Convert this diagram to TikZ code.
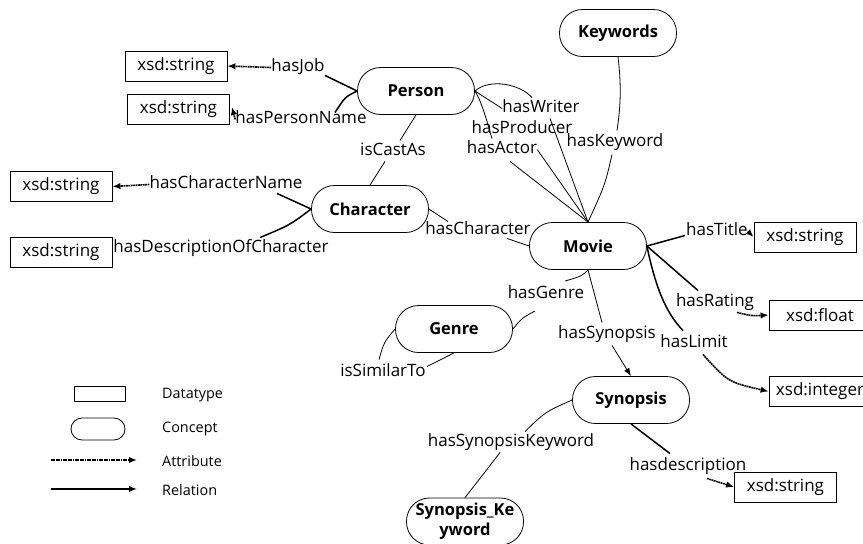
\documentclass[tikz,border=0pt]{standalone}
\usepackage{fontspec}
\setmainfont{Open Sans}
\usetikzlibrary{calc,arrows.meta}
\begin{document}
\begin{tikzpicture}[x=1pt,y=-1pt,
  every node/.style={font=\fontsize{17}{20}\selectfont},
  concept/.style={draw, line width=0.8pt, rounded corners=23pt, minimum width=117pt, minimum height=47pt, inner sep=0pt, font=\fontsize{16.5}{20}\selectfont\bfseries, align=center},
  dtype/.style={draw, line width=0.8pt, minimum width=102pt, minimum height=30pt, inner sep=0pt},
  lbl/.style={inner sep=0pt, text height=12pt, text depth=3.5pt},
  rel/.style={line width=0.8pt},
  relarr/.style={line width=0.8pt, -{Latex[length=8pt,width=6pt]}},
  relleg/.style={line width=1.8pt, -{Latex[length=8pt,width=6.5pt]}},
  attrline/.style={line width=1.5pt},
  attrarr/.style={line width=1.6pt, dash pattern=on 1.8pt off 0.6pt, -{Latex[length=8pt,width=6.5pt]}},
  legtxt/.style={anchor=west, inner sep=0pt, font=\fontsize{14.4}{17}\selectfont}]
\useasboundingbox (0,0) rectangle (863,544);
\clip (0,0) rectangle (863,544);

% concepts
\node[concept] (person) at (416,91) {Person};
\node[concept] (keywords) at (618,33) {Keywords};
\node[concept] (character) at (370,209) {Character};
\node[concept] (movie) at (588,246) {Movie};
\node[concept] (genre) at (454,329) {Genre};
\node[concept] (synopsis) at (631,400) {Synopsis};
\node[concept] (synkw) at (465,521.5) {Synopsis\_Ke\\yword};

% datatypes
\node[dtype] (s1) at (176,66) {xsd:string};
\node[dtype] (s2) at (178.5,109) {xsd:string};
\node[dtype] (s3) at (61,186.5) {xsd:string};
\node[dtype] (s4) at (61,252) {xsd:string};
\node[dtype] (s5) at (805,237) {xsd:string};
\node[dtype] (sf) at (820,315) {xsd:float};
\node[dtype] (si) at (820,391.5) {xsd:integer};
\node[dtype] (s6) at (785.5,487) {xsd:string};

% labels
\node[lbl] (lJob) at (298,67.5) {hasJob};
\node[lbl] (lPN) at (301,119.5) {hasPersonName};
\node[lbl] (lCast) at (393,151.5) {isCastAs};
\node[lbl] (lCN) at (226,184.5) {hasCharacterName};
\node[lbl] (lDC) at (221,248.5) {hasDescriptionOfCharacter};
\node[lbl] (lChar) at (478,230.5) {hasCharacter};
\node[lbl] (lWriter) at (541,108.5) {hasWriter};
\node[lbl] (lProd) at (522,129.5) {hasProducer};
\node[lbl] (lActor) at (502,149.5) {hasActor};
\node[lbl] (lKw) at (615,142.5) {hasKeyword};
\node[lbl] (lTitle) at (717,231.5) {hasTitle};
\node[lbl] (lRating) at (715,302.5) {hasRating};
\node[lbl] (lLimit) at (694,343.5) {hasLimit};
\node[lbl] (lGenre) at (546,294) {hasGenre};
\node[lbl] (lSyn) at (607,334.5) {hasSynopsis};
\node[lbl] (lSim) at (383,372.5) {isSimilarTo};
\node[lbl] (lSK) at (511,442.5) {hasSynopsisKeyword};
\node[lbl] (lDesc) at (688,466.5) {hasdescription};

% Person attributes
\draw[attrline] (person.west) -- ($(lJob.south)+(27,0)$);
\draw[attrarr] (lJob.west) -- (s1.east);
\draw[attrline] (person.west) .. controls (345,97) .. ($(lPN.north)+(34,1)$);
\draw[attrarr] (lPN.west) -- ($(s2.east)+(2,-2)$);

% Person - Character
\draw[rel] (person.south) -- ($(lCast.north)+(7,-3)$);
\draw[rel] ($(lCast.south)+(-8,2)$) -- (character.north);

% Character attributes
\draw[attrline] (character.west) -- ($(lCN.south)+(51,1)$);
\draw[attrarr] (lCN.west) -- (s3.east);
\draw[attrline] (character.west) .. controls (290,225) .. ($(lDC.north)+(39,-3)$);

% Character - Movie
\draw[rel] (character.east) -- ($(lChar.north)+(-30,-1)$);
\draw[rel] ($(lChar.south)+(29,0)$) -- (movie.west);

% Person - Movie
\draw[rel] (person.east) .. controls (490,78) and (520,84) .. ($(lWriter.north)+(-9,-3)$);
\draw[rel] ($(lWriter.south)+(9,2)$) -- (movie.north);
\draw[rel] (person.east) -- (lWriter.west);
\draw[rel] (lActor.east) -- (movie.north);
\draw[rel] (person.east) .. controls (482,102) and (488,125) .. ($(lActor.north)+(-10,-3)$);
\draw[rel] ($(lActor.south)+(8,4)$) -- (movie.north);

% Keywords - Movie
\draw[rel] (keywords.south) .. controls (622,90) and (620,110) .. ($(lKw.north)+(2,-4)$);
\draw[rel] ($(lKw.south)+(-3,4)$) .. controls (605,185) .. (movie.north);

% Movie attributes
\draw[attrline] (movie.east) -- ($(lTitle.west)+(-1,4)$);
\draw[attrarr] (lTitle.east) -- (s5.west);
\draw[attrline] (movie.east) -- ($(lRating.north)+(-17,-4)$);
\draw[attrarr] ($(lRating.south)+(22,2)$) .. controls (752,316) .. (sf.west);
\draw[attrline] (movie.east) .. controls (655,285) and (665,312) .. ($(lLimit.north)+(-11,-5)$);
\draw[attrarr] ($(lLimit.south)+(9,3)$) .. controls (728,382) .. (si.west);

% Movie - Genre, Synopsis
\draw[rel] (movie.south) .. controls (582,276) .. ($(lGenre.north)+(19,-5)$);
\draw[rel] ($(lGenre.south)+(-11,9)$) .. controls (522,318) .. (genre.east);
\draw[rel] (movie.south) -- ($(lSyn.north)+(-5,-4)$);
\draw[relarr] ($(lSyn.south)+(5,3)$) -- (synopsis.north);

% Genre self
\draw[rel] (genre.west) .. controls (384,342) .. ($(lSim.north)+(-4,-5)$);
\draw[rel] ($(lSim.north)+(44,2)$) -- (genre.south);

% Synopsis
\draw[rel] (synopsis.west) .. controls (545,412) .. ($(lSK.north)+(14,-3)$);
\draw[rel] ($(lSK.south)+(-11,2)$) .. controls (485,472) .. (synkw.north);
\draw[attrline] (synopsis.south) -- ($(lDesc.north)+(-18,-5)$);
\draw[attrarr] ($(lDesc.south)+(19,4)$) -- (s6.west);

% legend
\node[draw, line width=0.8pt, minimum width=51pt, minimum height=15pt, inner sep=0pt] (legD) at (99.5,393.5) {};
\node[draw, line width=0.8pt, rounded corners=11pt, minimum width=54pt, minimum height=22pt, inner sep=0pt] (legC) at (98,429) {};
\coordinate (la1) at (51,460);
\coordinate (la2) at (137,460);
\coordinate (lr1) at (51,489);
\coordinate (lr2) at (137,489);
\draw[attrarr] (la1) -- (la2);
\draw[relleg] (lr1) -- (lr2);
\node[legtxt] (tD) at (162,395) {Datatype};
\node[legtxt] (tC) at (162,429) {Concept};
\node[legtxt] (tA) at (162,461) {Attribute};
\node[legtxt] (tR) at (162,490) {Relation};
\end{tikzpicture}
\end{document}
